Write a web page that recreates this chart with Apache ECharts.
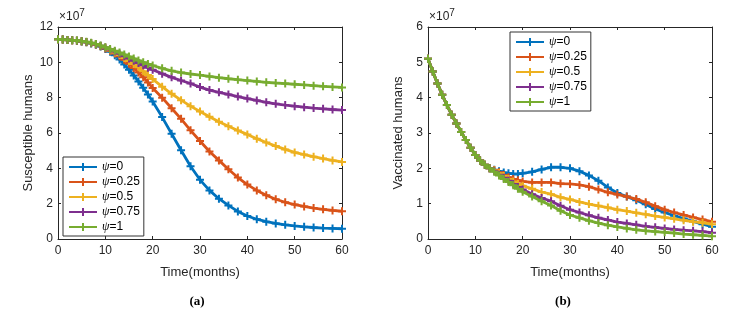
<!DOCTYPE html>
<html><head><meta charset="utf-8">
<script src="https://cdn.jsdelivr.net/npm/echarts@6/dist/echarts.min.js"></script>
<style>html,body{margin:0;padding:0;background:#fff}#c{width:745px;height:317px}</style>
</head><body><div id="c"></div>
<script>
// Time points (months)
const months = [0,1,2,3,4,5,6,7,8,9,10,11,12,13,14,15,16,17,18,19,20,22,24,26,28,30,32,34,36,38,40,42,44,46,48,50,52,54,56,58,60];
const seriesNames = ['ψ=0','ψ=0.25','ψ=0.5','ψ=0.75','ψ=1'];
const xTickLabels = [0,10,20,30,40,50,60];
const ySusceptibleTicks = [0,2,4,6,8,10,12];
const yVaccinatedTicks = [0,1,2,3,4,5,6];

// (a) Susceptible humans, units of 1e7
const susceptible_psi0    = [11.30,11.29,11.27,11.25,11.22,11.18,11.13,11.07,10.99,10.89,10.76,10.60,10.40,10.16,9.88,9.58,9.26,8.92,8.56,8.18,7.78,6.90,5.96,5.02,4.12,3.35,2.75,2.28,1.90,1.56,1.30,1.12,0.98,0.88,0.80,0.74,0.69,0.65,0.62,0.60,0.58];
const susceptible_psi025  = [11.30,11.29,11.27,11.25,11.22,11.19,11.14,11.08,11.01,10.91,10.79,10.65,10.50,10.34,10.14,9.92,9.68,9.42,9.16,8.86,8.55,8.00,7.40,6.80,6.15,5.55,4.95,4.45,3.95,3.48,3.08,2.75,2.48,2.25,2.08,1.95,1.84,1.75,1.68,1.62,1.57];
const susceptible_psi05   = [11.30,11.29,11.27,11.25,11.22,11.19,11.15,11.09,11.02,10.93,10.82,10.69,10.56,10.41,10.25,10.08,9.91,9.72,9.50,9.28,9.05,8.62,8.22,7.86,7.52,7.22,6.92,6.64,6.38,6.14,5.92,5.68,5.46,5.26,5.07,4.90,4.78,4.66,4.55,4.45,4.36];
const susceptible_psi075  = [11.30,11.29,11.27,11.25,11.22,11.19,11.15,11.10,11.03,10.94,10.84,10.73,10.61,10.48,10.35,10.22,10.09,9.96,9.83,9.70,9.58,9.36,9.15,8.97,8.80,8.60,8.43,8.30,8.18,8.06,7.95,7.84,7.74,7.65,7.58,7.52,7.46,7.41,7.37,7.33,7.30];
const susceptible_psi1    = [11.30,11.29,11.27,11.25,11.23,11.20,11.16,11.11,11.04,10.95,10.86,10.76,10.66,10.55,10.44,10.33,10.22,10.11,10.00,9.91,9.82,9.66,9.52,9.42,9.34,9.28,9.20,9.13,9.07,9.02,8.97,8.92,8.87,8.83,8.80,8.76,8.72,8.68,8.64,8.61,8.58];

// (b) Vaccinated humans, units of 1e7
const vaccinated_psi0     = [5.10,4.74,4.40,4.08,3.79,3.52,3.27,3.03,2.80,2.58,2.38,2.22,2.10,2.00,1.96,1.92,1.88,1.86,1.84,1.84,1.86,1.90,1.97,2.03,2.03,2.00,1.92,1.80,1.65,1.46,1.30,1.20,1.10,0.98,0.85,0.75,0.66,0.58,0.50,0.42,0.35];
const vaccinated_psi025   = [5.10,4.74,4.40,4.08,3.79,3.52,3.27,3.03,2.80,2.58,2.38,2.22,2.10,2.00,1.95,1.89,1.81,1.75,1.70,1.66,1.63,1.60,1.60,1.60,1.57,1.56,1.53,1.48,1.40,1.32,1.26,1.20,1.13,1.04,0.93,0.83,0.75,0.68,0.61,0.55,0.49];
const vaccinated_psi05    = [5.10,4.74,4.40,4.08,3.79,3.52,3.27,3.03,2.80,2.58,2.38,2.22,2.10,2.00,1.94,1.86,1.78,1.70,1.63,1.56,1.51,1.42,1.33,1.27,1.18,1.12,1.05,0.99,0.94,0.89,0.83,0.79,0.74,0.70,0.65,0.61,0.57,0.53,0.49,0.46,0.42];
const vaccinated_psi075   = [5.10,4.74,4.40,4.08,3.79,3.52,3.27,3.03,2.80,2.58,2.38,2.22,2.10,2.00,1.92,1.82,1.73,1.65,1.56,1.47,1.40,1.27,1.16,1.07,0.94,0.83,0.75,0.67,0.60,0.54,0.48,0.44,0.40,0.36,0.33,0.30,0.27,0.25,0.23,0.21,0.18];
const vaccinated_psi1     = [5.10,4.74,4.40,4.08,3.79,3.52,3.27,3.03,2.80,2.58,2.38,2.22,2.10,2.00,1.90,1.80,1.70,1.61,1.52,1.42,1.34,1.20,1.07,0.95,0.80,0.68,0.60,0.52,0.45,0.39,0.34,0.30,0.26,0.23,0.21,0.19,0.17,0.14,0.12,0.10,0.08];

const colors = ['#0072BD','#D95319','#EDB120','#7E2F8E','#77AC30'];
const susceptibleSets = [susceptible_psi0,susceptible_psi025,susceptible_psi05,susceptible_psi075,susceptible_psi1];
const vaccinatedSets = [vaccinated_psi0,vaccinated_psi025,vaccinated_psi05,vaccinated_psi075,vaccinated_psi1];

const FONT = 'Liberation Sans, Arial, sans-serif';
const AX = '#262626';
const plus = 'path://M3,0H5V3H8V5H5V8H3V5H0V3H3Z';

function pairs(vals){ return months.map((t,i)=>[t, vals[i]]); }

function xAxisDef(gi, top){
  return {
    type:'value', gridIndex:gi, position: top?'top':'bottom',
    min:xTickLabels[0], max:xTickLabels[xTickLabels.length-1], interval:10,
    axisLine:{show:true, onZero:false, lineStyle:{color:AX, width:1}},
    axisTick:{show:true, inside:true, length:3, lineStyle:{color:AX}},
    axisLabel:{show:!top, color:AX, fontFamily:FONT, fontSize:12, margin:6},
    splitLine:{show:false},
    name: top?'':'Time(months)', nameLocation:'middle', nameGap:27,
    nameTextStyle:{color:AX, fontFamily:FONT, fontSize:13}
  };
}
function yAxisDef(gi, right, ticks, name){
  return {
    type:'value', gridIndex:gi, position: right?'right':'left',
    min:ticks[0], max:ticks[ticks.length-1], interval:ticks[1]-ticks[0],
    axisLine:{show:true, onZero:false, lineStyle:{color:AX, width:1}},
    axisTick:{show:true, inside:true, length:3, lineStyle:{color:AX}},
    axisLabel:{show:!right, color:AX, fontFamily:FONT, fontSize:12, margin:5},
    splitLine:{show:false},
    name: right?'':name, nameLocation:'middle', nameGap:23,
    nameTextStyle:{color:AX, fontFamily:FONT, fontSize:13}
  };
}

const series = [];
seriesNames.forEach((n,i)=>{
  series.push({name:n, type:'line', xAxisIndex:0, yAxisIndex:0, data:pairs(susceptibleSets[i]),
    symbol:plus, symbolSize:8, showAllSymbol:true, color:colors[i],
    lineStyle:{width:2.8, color:colors[i]}, itemStyle:{color:colors[i]}, z:2+i});
});
seriesNames.forEach((n,i)=>{
  series.push({name:n, type:'line', xAxisIndex:1, yAxisIndex:1, data:pairs(vaccinatedSets[i]),
    symbol:plus, symbolSize:8, showAllSymbol:true, color:colors[i],
    lineStyle:{width:2.8, color:colors[i]}, itemStyle:{color:colors[i]}, z:2+i});
});

function legendDef(left, top){
  return {
    orient:'vertical', left:left, top:top, data:seriesNames,
    itemWidth:28, itemHeight:10, itemGap:3,
    padding:[4,4,3,5], borderColor:'#333', borderWidth:1, backgroundColor:'#fff',
    selectedMode:false,
    formatter: name => '{i|ψ}' + name.slice(1),
    textStyle:{color:'#000', fontFamily:FONT, fontSize:12, lineHeight:12,
      rich:{i:{fontStyle:'italic', fontFamily:'Liberation Serif, serif', fontSize:12, lineHeight:12}}}
  };
}

const chart = echarts.init(document.getElementById('c'), null, {renderer:'canvas'});
chart.setOption({
  animation:false,
  backgroundColor:'#fff',
  grid:[
    {left:58, top:27, width:284, height:212},
    {left:428, top:27, width:284, height:212}
  ],
  xAxis:[xAxisDef(0,false), xAxisDef(1,false), xAxisDef(0,true), xAxisDef(1,true)],
  yAxis:[yAxisDef(0,false,ySusceptibleTicks,'Susceptible humans'), yAxisDef(1,false,yVaccinatedTicks,'Vaccinated humans'),
         yAxisDef(0,true,ySusceptibleTicks,''), yAxisDef(1,true,yVaccinatedTicks,'')],
  legend:[legendDef(63,157), legendDef(510,32)],
  series: series,
  graphic:[
    {type:'text', left:59, top:8, style:{text:'×10{s|7}', fill:AX, font:'12px '+FONT,
      rich:{s:{fontSize:10, verticalAlign:'top', padding:[0,0,7,0]}}}},
    {type:'text', left:429, top:8, style:{text:'×10{s|7}', fill:AX, font:'12px '+FONT,
      rich:{s:{fontSize:10, verticalAlign:'top', padding:[0,0,7,0]}}}},
    {type:'text', x:197, y:302, style:{text:'(a)', fill:'#000', font:'bold 13px Liberation Serif, serif', align:'center', verticalAlign:'middle'}},
    {type:'text', x:563, y:302, style:{text:'(b)', fill:'#000', font:'bold 13px Liberation Serif, serif', align:'center', verticalAlign:'middle'}}
  ]
});
</script>
</body></html>
